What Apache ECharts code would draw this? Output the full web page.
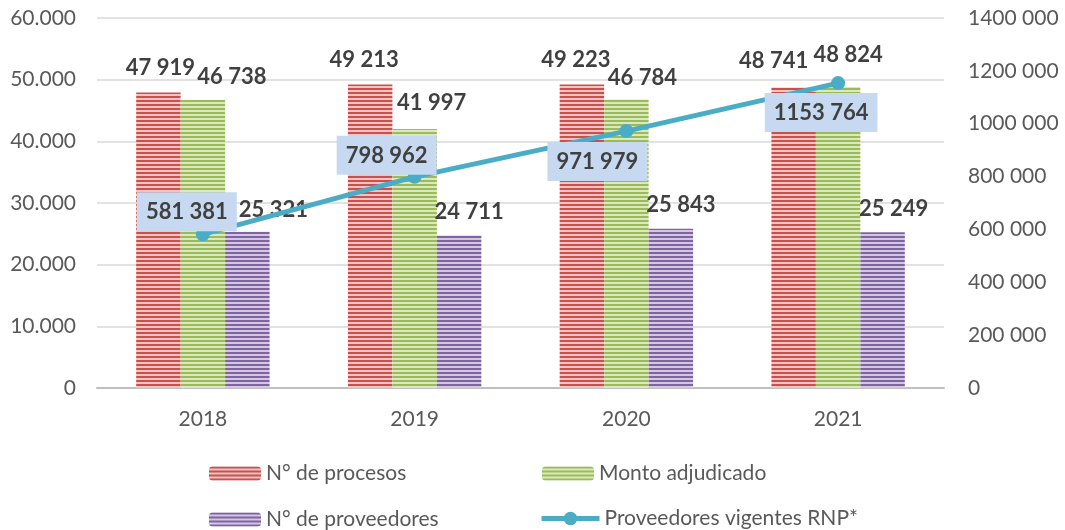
<!DOCTYPE html>
<html>
<head>
<meta charset="utf-8">
<script src="https://cdn.jsdelivr.net/npm/echarts@6/dist/echarts.min.js"></script>
<style>
  html, body { margin: 0; padding: 0; background: #fff; }
  #main { width: 1065px; height: 530px; }
</style>
</head>
<body>
<div id="main"></div>
<script>
var years = ['2018', '2019', '2020', '2021'];
var procesos = [47919, 49213, 49223, 48741];
var monto = [46738, 41997, 46784, 48824];
var proveedores = [25321, 24711, 25843, 25249];
var rnp = [581381, 798962, 971979, 1153764];

// hand-placed label nudges, as in the excel original
var procesosNudge = [[2, -9], [-6, -9], [-6, -9], [-20, -11]];
var montoNudge = [[29, -7], [17, -10], [16, -6], [10, -16]];
var proveedoresNudge = [[26, -6], [10, -8], [10, -8], [11, -7]];
var rnpNudge = [[-16, 4], [-28, 5], [-29, 4], [-17, 3]];

var FONT = 'Lato, "Open Sans", sans-serif';

// horizontal stripe fill like the excel pattern
function stripes(dark, light) {
    var c = document.createElement('canvas');
    c.width = 4; c.height = 4;
    var g = c.getContext('2d');
    g.fillStyle = light; g.fillRect(0, 0, 4, 4);
    g.fillStyle = dark; g.fillRect(0, 0, 4, 2);
    return { image: c, repeat: 'repeat' };
}

function spaced(v) {
    if (v < 1000) return String(v);
    var t = v % 1000;
    return Math.floor(v / 1000) + ' ' + ('00' + t).slice(-3);
}

function withNudge(values, nudge, extra) {
    return values.map(function (v, i) {
        var lab = { offset: nudge[i] };
        if (extra) lab.position = extra[i];
        return { value: v, label: lab };
    });
}

var chart = echarts.init(document.getElementById('main'));

var barLabel = {
    show: true, position: 'top',
    fontFamily: FONT, fontSize: 22, fontWeight: 'bold', color: '#404040',
    formatter: function (p) { return spaced(p.value); }
};

var legendText = { fontFamily: FONT, fontSize: 21, color: '#595959' };

var option = {
    animation: false,
    grid: { left: 97, right: 121, top: 18, bottom: 142 },
    legend: [
        { left: 209, top: 463, padding: 0, itemWidth: 52, itemHeight: 14, data: ['N° de procesos'], textStyle: legendText },
        { left: 542, top: 463, padding: 0, itemWidth: 52, itemHeight: 14, data: ['Monto adjudicado'], textStyle: legendText },
        { left: 209, top: 509, padding: 0, itemWidth: 52, itemHeight: 14, data: ['N° de proveedores'], textStyle: legendText },
        { left: 539, top: 508, padding: 0, itemWidth: 58, itemHeight: 17,
          data: [{ name: 'Proveedores vigentes RNP*', lineStyle: { width: 5 } }],
          lineStyle: { width: 5 }, textStyle: legendText }
    ],
    xAxis: {
        type: 'category',
        data: years,
        axisLine: { lineStyle: { color: '#bfbfbf', width: 2 } },
        axisTick: { show: false },
        axisLabel: { fontFamily: FONT, fontSize: 21, color: '#595959', margin: 21 }
    },
    yAxis: [
        {
            type: 'value', min: 0, max: 60000, interval: 10000,
            axisLine: { show: false }, axisTick: { show: false },
            splitLine: { lineStyle: { color: '#d9d9d9', width: 1.5 } },
            axisLabel: {
                fontFamily: FONT, fontSize: 21, color: '#595959', margin: 21,
                formatter: function (v) { return v === 0 ? '0' : (v / 1000) + '.000'; }
            }
        },
        {
            type: 'value', min: 0, max: 1400000, interval: 200000,
            axisLine: { show: false }, axisTick: { show: false },
            splitLine: { show: false },
            axisLabel: {
                fontFamily: FONT, fontSize: 21, color: '#595959', margin: 24,
                formatter: spaced
            }
        }
    ],
    series: [
        {
            name: 'N° de procesos', type: 'bar', data: withNudge(procesos, procesosNudge),
            barGap: 0, barCategoryGap: '37%',
            itemStyle: { color: stripes('#c9504d', '#f0c4c2') },
            label: barLabel
        },
        {
            name: 'Monto adjudicado', type: 'bar', data: withNudge(monto, montoNudge),
            itemStyle: { color: stripes('#9bbb59', '#dbe9c0') },
            label: barLabel
        },
        {
            name: 'N° de proveedores', type: 'bar', data: withNudge(proveedores, proveedoresNudge),
            itemStyle: { color: stripes('#8064a2', '#d3c7e2') },
            label: barLabel
        },
        {
            name: 'Proveedores vigentes RNP*', type: 'line', yAxisIndex: 1,
            data: withNudge(rnp, rnpNudge, ['top', 'top', 'bottom', 'bottom']),
            symbol: 'circle', symbolSize: 14, z: 5,
            lineStyle: { color: '#4bacc6', width: 5 },
            itemStyle: { color: '#4bacc6' },
            label: {
                show: true, distance: 0,
                fontFamily: FONT, fontSize: 22, fontWeight: 'bold', color: '#404040',
                backgroundColor: '#c6d9f1', padding: [9, 9, 8, 9],
                formatter: function (p) { return spaced(p.value); }
            }
        }
    ]
};

chart.setOption(option);
</script>
</body>
</html>
